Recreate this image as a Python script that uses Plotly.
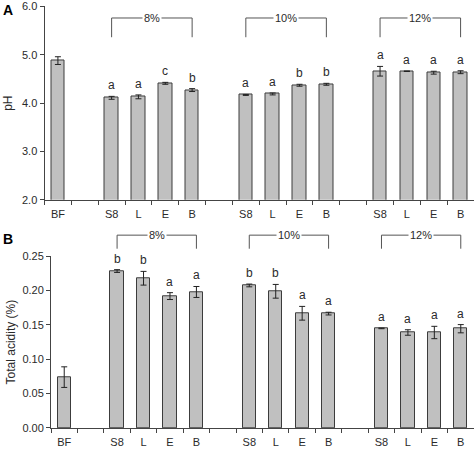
import plotly.graph_objects as go

categories = ["BF", "", "S8", "L", "E", "B", "", "S8", "L", "E", "B", "", "S8", "L", "E", "B"]
ph_values = [4.88, None, 4.11, 4.13, 4.41, 4.27, None, 4.17, 4.19, 4.37, 4.39, None, 4.66, 4.66, 4.63, 4.64]
ph_errors = [0.08, None, 0.03, 0.04, 0.02, 0.03, None, 0.01, 0.02, 0.02, 0.02, None, 0.10, 0.005, 0.03, 0.03]
ph_letters = ["", "", "a", "a", "c", "b", "", "a", "a", "b", "b", "", "a", "a", "a", "a"]

acid_values = [0.074, None, 0.2285, 0.218, 0.192, 0.198, None, 0.2075, 0.199, 0.167, 0.1665, None, 0.145, 0.139, 0.139, 0.1445]
acid_errors = [0.015, None, 0.002, 0.01, 0.005, 0.008, None, 0.002, 0.01, 0.01, 0.002, None, 0.0005, 0.004, 0.009, 0.006]
acid_letters = ["", "", "b", "b", "a", "a", "", "b", "b", "a", "a", "", "a", "a", "a", "a"]

group_labels = ["8%", "10%", "12%"]
group_spans = [(2, 5), (7, 10), (12, 15)]

ph_ticks = [2.0, 3.0, 4.0, 5.0, 6.0]
acid_ticks = [0.00, 0.05, 0.10, 0.15, 0.20, 0.25]

FONT = "Liberation Sans, Arial, sans-serif"
BAR_FILL = "#c0c0c0"
BAR_LINE = "#3c3c3c"
AX = "#444444"
TXT = "#2a2a2a"

xpos = list(range(len(categories)))
label_idx = [i for i, c in enumerate(categories) if c]

fig = go.Figure()

for vals, errs, xa, ya in [(ph_values, ph_errors, "x", "y"), (acid_values, acid_errors, "x2", "y2")]:
    xs = [i for i in xpos if vals[i] is not None]
    fig.add_trace(go.Bar(
        x=xs, y=[vals[i] for i in xs],
        error_y=dict(type="data", array=[errs[i] for i in xs], color="#222222", thickness=1, width=3),
        marker=dict(color=BAR_FILL, line=dict(color=BAR_LINE, width=1)),
        width=0.5, xaxis=xa, yaxis=ya, showlegend=False, hoverinfo="skip",
    ))

for vals, errs, letters, xa, ya in [(ph_values, ph_errors, ph_letters, "x", "y"),
                                     (acid_values, acid_errors, acid_letters, "x2", "y2")]:
    for i, l in enumerate(letters):
        if l and vals[i] is not None:
            fig.add_annotation(x=i, y=vals[i] + errs[i], xref=xa, yref=ya, text=l,
                               showarrow=False, yanchor="bottom", yshift=2,
                               font=dict(family=FONT, size=12, color=TXT))

# group brackets
for xa, ya_dom, top, bot in [("x", "y domain", 0.9405, 0.841), ("x2", "y2 domain", 1.123, 1.044)]:
    for (s, e), lab in zip(group_spans, group_labels):
        line = dict(color="#555555", width=1)
        fig.add_shape(type="line", xref=xa, yref=ya_dom, x0=s, x1=e, y0=top, y1=top, line=line)
        fig.add_shape(type="line", xref=xa, yref=ya_dom, x0=s, x1=s, y0=top, y1=bot, line=line)
        fig.add_shape(type="line", xref=xa, yref=ya_dom, x0=e, x1=e, y0=top, y1=bot, line=line)
        fig.add_annotation(x=(s + e) / 2, y=top, xref=xa, yref=ya_dom, text=lab, showarrow=False,
                           bgcolor="white", borderpad=1, yanchor="middle",
                           font=dict(family=FONT, size=11, color=TXT))

xcommon = dict(
    range=[-0.5, 15.5], tickvals=label_idx, ticktext=[categories[i] for i in label_idx],
    ticks="", showline=True, linecolor=AX, linewidth=1, showgrid=False, zeroline=False,
    ticklabelstandoff=4,
    tickfont=dict(family=FONT, size=11, color=TXT),
    minor=dict(tickvals=[i - 0.5 for i in range(len(categories) + 1)], ticks="outside",
               ticklen=4, tickcolor=AX, showgrid=False),
)
ycommon = dict(ticks="outside", ticklen=4, tickcolor=AX, showline=True, linecolor=AX, linewidth=1,
               showgrid=False, zeroline=False, tickfont=dict(family=FONT, size=11, color=TXT))

fig.update_layout(
    width=474, height=458, margin=dict(l=0, r=0, t=0, b=0),
    paper_bgcolor="white", plot_bgcolor="white", bargap=0,
    xaxis=dict(domain=[44.5 / 474, 1.0], anchor="y", **xcommon),
    yaxis=dict(domain=[1 - 199 / 458, 1 - 0.5 / 458], anchor="x", range=[2.0, 6.0],
               tickvals=ph_ticks, ticktext=[f"{t:.1f}" for t in ph_ticks],
               title=dict(text="pH", font=dict(family=FONT, size=12, color=TXT), standoff=6), **ycommon),
    xaxis2=dict(domain=[51 / 474, 1.0], anchor="y2", **xcommon),
    yaxis2=dict(domain=[1 - 433.3 / 458, 1 - 257 / 458], anchor="x2", range=[0, 0.25],
                tickvals=acid_ticks, ticktext=[f"{t:.2f}" for t in acid_ticks],
                title=dict(text="Total acidity (%)", font=dict(family=FONT, size=12, color=TXT), standoff=4),
                **ycommon),
)

fig.add_annotation(x=0.003, y=1 - 4 / 458, xref="paper", yref="paper", text="<b>A</b>", showarrow=False,
                   xanchor="left", yanchor="middle", font=dict(family=FONT, size=14, color="black"))
fig.add_annotation(x=0.003, y=1 - 239 / 458, xref="paper", yref="paper", text="<b>B</b>", showarrow=False,
                   xanchor="left", yanchor="middle", font=dict(family=FONT, size=14, color="black"))

fig.write_html("out.html")
